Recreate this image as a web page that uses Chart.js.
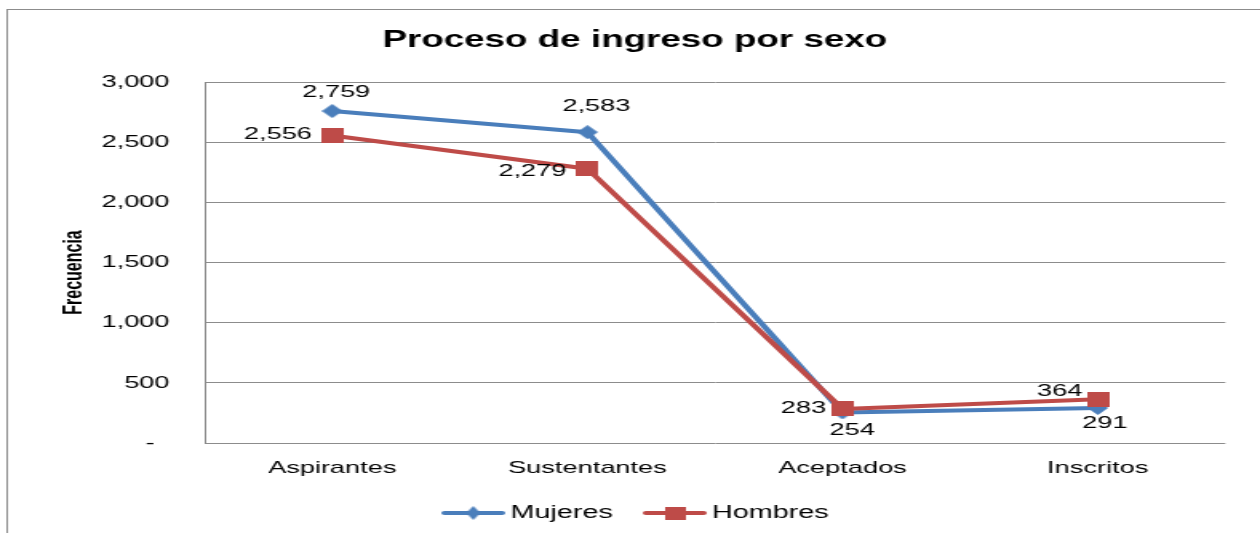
<!DOCTYPE html>
<html>
<head>
<meta charset="utf-8">
<script src="https://cdn.jsdelivr.net/npm/chart.js@4.4.1/dist/chart.umd.min.js"></script>
<style>
html, body { margin: 0; padding: 0; background: #fff; }
#chart { display: block; }
</style>
</head>
<body>
<!-- the source picture is a horizontally stretched Excel chart, so draw narrow and stretch -->
<canvas id="chart" width="788" height="533" style="width:1260px;height:533px"></canvas>
<script>
const categories = ['Aspirantes', 'Sustentantes', 'Aceptados', 'Inscritos'];
const mujeres = [2759, 2583, 254, 291];
const hombres = [2556, 2279, 283, 364];
const yMin = 0;
const yMax = 3000;
const yStep = 500;

const blue = '#4a7ebb';
const red = '#be4b48';
const gridColor = '#8c8c8c';
const font = 'Liberation Sans';

Chart.defaults.font.family = font;
Chart.defaults.color = '#000';

// where each value label sits relative to its point [dx, dy]
const labelOffsets = [
    [[2.5, -19], [5.6, -26], [6, 18], [4.4, 15]],
    [[-34, -1], [-34.4, 3], [-24.4, -1], [-23.8, -8]]
];

function marker(shape, color, w, h) {
    const c = document.createElement('canvas');
    c.width = w;
    c.height = h;
    const g = c.getContext('2d');
    g.fillStyle = color;
    if (shape === 'diamond') {
        g.beginPath();
        g.moveTo(w / 2, 0);
        g.lineTo(w, h / 2);
        g.lineTo(w / 2, h);
        g.lineTo(0, h / 2);
        g.closePath();
        g.fill();
    } else {
        g.fillRect(0, 0, w, h);
    }
    return c;
}

// legend swatch: line with marker; canvas is wider on the left so the
// line starts at the item's left edge and ends just before the text
function legendIcon(shape, color) {
    const c = document.createElement('canvas');
    c.width = 46;
    c.height = 16;
    const g = c.getContext('2d');
    g.strokeStyle = color;
    g.lineWidth = 4;
    g.lineCap = 'round';
    g.beginPath();
    g.moveTo(8, 8);
    g.lineTo(44, 8);
    g.stroke();
    const m = shape === 'diamond' ? marker(shape, color, 9, 14) : marker(shape, color, 13, 13);
    g.drawImage(m, 26 - m.width / 2, 8 - m.height / 2);
    return c;
}

const legendIcons = [legendIcon('diamond', blue), legendIcon('square', red)];

const frame = {
    id: 'frame',
    beforeDraw(chart) {
        const ctx = chart.ctx;
        ctx.save();
        ctx.strokeStyle = gridColor;
        ctx.lineWidth = 1;
        ctx.strokeRect(4.5, 9.5, 2000, 2000);
        ctx.restore();
    },
    afterDraw(chart) {
        // y axis title, sits a bit below the middle of the plot as in the source
        const ctx = chart.ctx;
        ctx.save();
        ctx.translate(47, 272.5);
        ctx.rotate(-Math.PI / 2);
        ctx.font = 'bold 16px "' + font + '"';
        ctx.fillStyle = '#000';
        ctx.textAlign = 'center';
        ctx.textBaseline = 'middle';
        ctx.fillText('Frecuencia', 0, 0);
        ctx.restore();
    }
};

const pointLabels = {
    id: 'pointLabels',
    afterDatasetsDraw(chart) {
        const ctx = chart.ctx;
        ctx.save();
        ctx.font = '17px "' + font + '"';
        ctx.fillStyle = '#000';
        ctx.textAlign = 'center';
        ctx.textBaseline = 'middle';
        chart.data.datasets.forEach((ds, i) => {
            chart.getDatasetMeta(i).data.forEach((pt, j) => {
                const off = labelOffsets[i][j];
                ctx.fillText(ds.data[j].toLocaleString('en-US'), pt.x + off[0], pt.y + off[1]);
            });
        });
        ctx.restore();
    }
};

new Chart(document.getElementById('chart'), {
    type: 'line',
    data: {
        labels: categories,
        datasets: [{
            label: 'Mujeres',
            data: mujeres,
            borderColor: blue,
            backgroundColor: blue,
            borderWidth: 4,
            borderJoinStyle: 'round',
            borderCapStyle: 'round',
            pointStyle: marker('diamond', blue, 13, 14),
            pointRadius: 8,
            order: 1
        }, {
            label: 'Hombres',
            data: hombres,
            borderColor: red,
            backgroundColor: red,
            borderWidth: 4,
            borderJoinStyle: 'round',
            borderCapStyle: 'round',
            pointStyle: marker('square', red, 14, 15),
            pointRadius: 8,
            order: 0
        }]
    },
    options: {
        responsive: false,
        animation: false,
        layout: {
            padding: { left: 6, right: 0, top: 0, bottom: 1 }
        },
        scales: {
            x: {
                offset: true,
                grid: { display: false, drawTicks: false },
                border: { display: false },
                ticks: { padding: 15, font: { size: 17 } },
                afterFit: s => { s.height = 42.5; }
            },
            y: {
                min: yMin,
                max: yMax,
                grid: { color: gridColor, lineWidth: 1, drawTicks: false },
                border: { display: true, color: gridColor, width: 1 },
                ticks: {
                    stepSize: yStep,
                    padding: 22,
                    font: { size: 17 },
                    callback: v => v === 0 ? '-  ' : v.toLocaleString('en-US')
                },
                afterFit: s => { s.width = 122; }
            },
            spacer: {
                type: 'linear',
                position: 'right',
                grid: { display: false, drawTicks: false },
                border: { display: false },
                ticks: { display: false },
                afterFit: s => { s.width = 21.7; }
            }
        },
        plugins: {
            title: {
                display: true,
                text: 'Proceso de ingreso por sexo',
                font: { size: 23, weight: 'bold' },
                color: '#000',
                padding: { top: 27.2, bottom: 27.2 }
            },
            legend: {
                position: 'bottom',
                labels: {
                    usePointStyle: true,
                    pointStyleWidth: 34.5,
                    padding: 18.5,
                    font: { size: 18 },
                    generateLabels: chart => chart.data.datasets.map((ds, i) => ({
                        text: ds.label,
                        pointStyle: legendIcons[i],
                        fillStyle: ds.borderColor,
                        strokeStyle: ds.borderColor,
                        lineWidth: 0,
                        hidden: false,
                        datasetIndex: i,
                        fontColor: '#000'
                    }))
                }
            },
            tooltip: { enabled: false }
        }
    },
    plugins: [frame, pointLabels]
});
</script>
</body>
</html>
